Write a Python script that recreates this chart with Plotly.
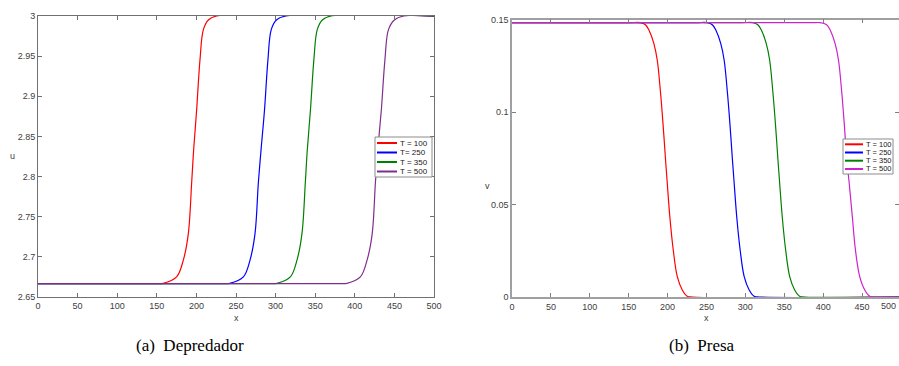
import plotly.graph_objects as go

W, H = 899, 366

# ---------------- data ----------------
series_names_left = ["T = 100", "T= 250", "T = 350", "T = 500"]
series_names_right = ["T = 100", "T = 250", "T = 350", "T = 500"]

# Predator u(x)
u_pred = [2.6667, 2.6667, 2.667, 2.675, 2.696, 2.729, 2.792, 2.833, 2.883, 2.945, 2.983, 2.995, 3.0, 3.0]
x_pred_t100 = [0, 150, 158, 175, 183.5, 189.8, 194.0, 196.5, 200.3, 204.5, 208.8, 215.1, 225.6, 500]
x_pred_t250 = [0, 235, 242, 259.3, 267.7, 274, 278.2, 281.6, 286, 290.3, 294.5, 301, 313, 500]
x_pred_t350 = [0, 295, 301.5, 318.6, 327, 333.3, 337.5, 340, 344, 348.3, 352.6, 359, 370, 500]
x_pred_t500 = [0, 380, 390, 407, 415.5, 422, 426, 429, 433.5, 438, 442.5, 450, 462, 500]

# Prey v(x)
v_prey = [0.1483, 0.1483, 0.1483, 0.1472, 0.1443, 0.1371, 0.1281, 0.1101, 0.0921, 0.0741,
          0.0615, 0.0434, 0.0254, 0.011, 0.0038, 0.0004, 0.0, 0.0]
x_prey_t100 = [0, 150, 165, 171.5, 176, 182.3, 186.7, 191, 194.4, 197.4, 199.6, 202.9, 207.3, 212.5, 218.9, 225.3, 232, 500]
x_prey_t250 = [0, 236, 251, 257.5, 262, 268.3, 272.7, 277, 280.4, 283.4, 285.6, 288.9, 293.3, 298.5, 304.9, 311.3, 318, 500]
x_prey_t350 = [0, 295, 309.5, 316, 320.5, 326.8, 331.2, 335.5, 338.9, 341.9, 344.1, 347.4, 351.8, 357, 363.4, 369.8, 376.5, 500]
x_prey_t500 = [0, 385, 396, 404.5, 409, 415.3, 419.7, 424, 427.4, 430.4, 433.5, 437.5, 441.5, 447, 453.5, 460, 467, 500]

x_ticks = [0, 50, 100, 150, 200, 250, 300, 350, 400, 450, 500]
u_ticks = [2.65, 2.7, 2.75, 2.8, 2.85, 2.9, 2.95, 3]
v_ticks = [0, 0.05, 0.1, 0.15]

axis_titles = {"x": "x", "u": "u", "v": "v"}
captions = ["(a)\u00a0\u00a0Depredador", "(b)\u00a0\u00a0Presa"]

# ---------------- styling ----------------
left_colors = ["#FF0000", "#0000FF", "#008000", "#7E2F8E"]
right_colors = ["#FF0000", "#0000FF", "#008000", "#CC22CC"]
SANS = "Liberation Sans, Arial, sans-serif"


def px_x(p):
    return p / W


def px_y(p):
    return 1 - p / H


fig = go.Figure()

pred_x = [x_pred_t100, x_pred_t250, x_pred_t350, x_pred_t500]
prey_x = [x_prey_t100, x_prey_t250, x_prey_t350, x_prey_t500]

for xs, name, col in zip(pred_x, series_names_left, left_colors):
    fig.add_trace(go.Scatter(x=xs, y=u_pred, mode="lines", name=name,
                             line=dict(color=col, width=1.2, shape="spline", smoothing=1.0),
                             xaxis="x", yaxis="y", showlegend=False))

for xs, name, col in zip(prey_x, series_names_right, right_colors):
    fig.add_trace(go.Scatter(x=xs, y=v_prey, mode="lines", name=name,
                             line=dict(color=col, width=1.2, shape="spline", smoothing=1.0),
                             xaxis="x2", yaxis="y2", showlegend=False))

tickfont = dict(family=SANS, size=9, color="#404040")

left_axis = dict(showgrid=False, zeroline=False, showline=True, linecolor="#707070", linewidth=1,
                 mirror="ticks", ticks="inside", ticklen=4, tickcolor="#707070", tickwidth=1,
                 tickfont=tickfont, automargin=False)
right_axis = dict(showgrid=False, zeroline=False, showline=True, linecolor="#A0A0A0", linewidth=1.5,
                  mirror="ticks", ticks="inside", ticklen=4, tickcolor="#808080", tickwidth=1,
                  tickfont=tickfont, automargin=False)

fig.update_layout(
    width=W, height=H,
    margin=dict(l=0, r=0, t=0, b=0, autoexpand=False),
    paper_bgcolor="white", plot_bgcolor="white",
    showlegend=False,
    xaxis=dict(left_axis, domain=[px_x(38), px_x(434)], range=[0, 500], tickvals=x_ticks, anchor="y"),
    yaxis=dict(left_axis, domain=[px_y(297), px_y(16)], range=[2.65, 3.0], tickvals=u_ticks, anchor="x"),
    xaxis2=dict(right_axis, domain=[px_x(512), 1.0], range=[0, 497.5], tickvals=x_ticks, anchor="y2"),
    yaxis2=dict(right_axis, domain=[px_y(297), px_y(19.5)], range=[0, 0.15], tickvals=v_ticks, anchor="x2"),
)

shapes = []
annotations = []


def add_text(x, y, text, size=9, xanchor="center", family=SANS, color="#404040"):
    annotations.append(dict(xref="paper", yref="paper", x=px_x(x), y=px_y(y), xanchor=xanchor,
                            yanchor="middle", showarrow=False, text=text,
                            font=dict(family=family, size=size, color=color)))


# axis titles
add_text(236, 318, axis_titles["x"])
add_text(12, 156, axis_titles["u"])
add_text(706, 318, axis_titles["x"])
add_text(487, 186, axis_titles["v"])


def add_legend(box, rows_y, line_x0, line_x1, text_x, names, colors, fsize):
    x0, y0, x1, y1 = box
    shapes.append(dict(type="rect", xref="paper", yref="paper",
                       x0=px_x(x0), x1=px_x(x1), y0=px_y(y1), y1=px_y(y0),
                       line=dict(color="#8C8C8C", width=1), fillcolor="white", layer="above"))
    for ry, name, col in zip(rows_y, names, colors):
        shapes.append(dict(type="line", xref="paper", yref="paper",
                           x0=px_x(line_x0), x1=px_x(line_x1), y0=px_y(ry), y1=px_y(ry),
                           line=dict(color=col, width=2), layer="above"))
        add_text(text_x, ry, name, size=fsize, xanchor="left", color="#202020")


add_legend((375, 137, 432, 177), [143, 152.5, 162, 171.5], 377, 397, 398,
           series_names_left, left_colors, 8)
add_legend((843, 139, 893, 174), [144.3, 152.5, 160.7, 169], 845, 863, 863.5,
           series_names_right, right_colors, 7.5)

# "500" label at the right edge of the prey panel
add_text(898, 306, "500", xanchor="right")

for cx, txt in zip([190, 702], captions):
    add_text(cx, 345, txt, size=17, family="Liberation Serif, Times New Roman, serif", color="#000000")

fig.update_layout(shapes=shapes, annotations=annotations)

fig.write_html(
    "out.html",
    config={"displayModeBar": False},
    post_script="document.body.style.margin='0';document.body.style.padding='0';"
                "document.documentElement.style.overflow='hidden';",
)
